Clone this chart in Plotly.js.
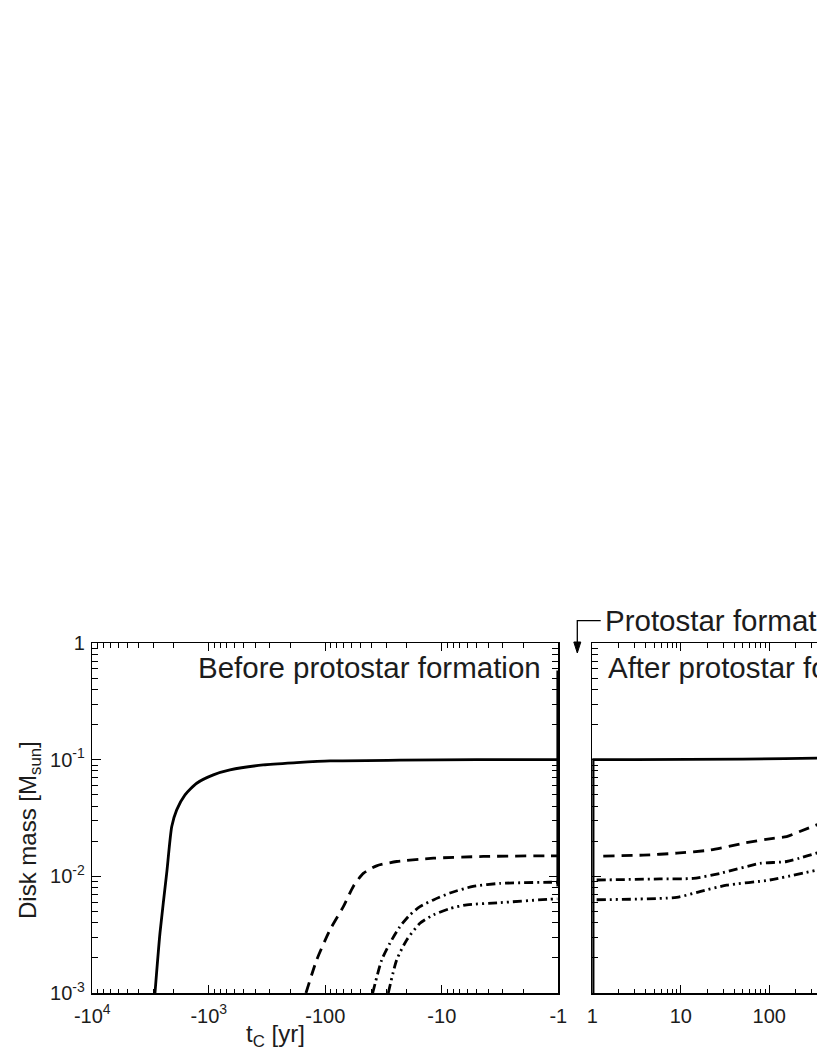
<!DOCTYPE html>
<html>
<head>
<meta charset="utf-8">
<script src="https://cdn.plot.ly/plotly-3.0.1.min.js"></script>
<style>
    html, body { margin: 0; padding: 0; overflow: hidden; background: #fff; }
    #chart { width: 1100px; height: 1058px; }
</style>
</head>
<body>
<div id="chart"></div>
<script>
    // --- data (t_c in yr, disk mass in M_sun) ---
    // before protostar formation (t_c < 0)
    const tSolidBefore = [-2897, -2624, -2297, -2080, -1886, -1600, -1270, -914, -658, -341, -176, -91, -23, -5, -1.2, -1.01];
    const mSolidBefore = [0.001, 0.00327, 0.0107, 0.0267, 0.0371, 0.0499, 0.0628, 0.074, 0.0816, 0.0901, 0.0942, 0.0975, 0.099, 0.1, 0.1, 0.1];
    const tSpikeBefore = [-1.01, -1.01];
    const mSpikeBefore = [0.58, 0.0082];
    const tDashBefore = [-146.5, -118.6, -91.2, -70, -57.5, -47.2, -36.3, -24.4, -11.8, -4.4, -1.18, -1.02];
    const mDashBefore = [0.001, 0.00192, 0.00347, 0.0055, 0.0082, 0.0106, 0.0123, 0.0134, 0.0143, 0.0148, 0.015, 0.015];
    const tDotBefore = [-39.2, -32.8, -27.9, -22.9, -18.8, -15.4, -11.8, -8.5, -5.4, -3.16, -1.18, -1.02];
    const mDotBefore = [0.001, 0.00192, 0.00267, 0.0037, 0.00467, 0.0055, 0.00628, 0.0072, 0.0082, 0.0087, 0.0089, 0.0089];
    const tDot2Before = [-28.8, -24.4, -20, -15.4, -11.8, -8.5, -6.1, -3.16, -1.18, -1.02];
    const mDot2Before = [0.001, 0.00192, 0.00285, 0.00396, 0.00467, 0.0053, 0.0057, 0.00595, 0.00637, 0.0064];

    // after protostar formation (t_c > 0)
    const tSolidAfter = [1.02, 1.02, 3, 10, 50, 150, 360];
    const mSolidAfter = [0.001, 0.1, 0.1, 0.1, 0.101, 0.102, 0.103];
    const tDashAfter = [1.33, 3.77, 9, 21.4, 50.8, 110.7, 157, 221, 360];
    const mDashAfter = [0.0149, 0.0152, 0.0158, 0.0168, 0.0192, 0.0212, 0.0219, 0.0242, 0.028];
    const tDotAfter = [1.12, 5.8, 13.8, 27.7, 78.5, 157, 360];
    const mDotAfter = [0.0093, 0.0095, 0.0096, 0.0106, 0.0129, 0.0134, 0.016];
    const tDot2After = [1.12, 9, 16.4, 33, 101, 360];
    const mDot2After = [0.0063, 0.0066, 0.0074, 0.0084, 0.0093, 0.0114];

    // tick labels (only the ones that are visible in the cropped figure)
    const xTickValsBefore = [10000, 1000, 100, 10, 1];
    const xTickTextBefore = ["-10<sup>4</sup>", "-10<sup>3</sup>", "-100", "-10", "-1"];
    const xTickValsAfter = [1, 10, 100];
    const xTickTextAfter = ["1", "10", "100"];
    const yTickVals = [1, 0.1, 0.01, 0.001];
    const yTickText = ["1", "10<sup>-1</sup>", "10<sup>-2</sup>", "10<sup>-3</sup>"];

    // --- page geometry ---
    const W = 1100, H = 1058;
    const px = x => x / W;
    const py = y => 1 - y / H;

    function minorVals(d0, d1) {
        const out = [];
        for (let d = d0; d < d1; d++) {
            for (let k = 2; k <= 9; k++) out.push(k * Math.pow(10, d));
        }
        return out;
    }

    const FONT = "Liberation Sans, Arial, Helvetica, sans-serif";
    const INK = "#1c1c1c";
    const W_LINE = 2.8;
    const DASH = "11px,7px";
    const DASHDOT = "9px,4px,2px,4px";
    const DASHDOT2 = "9px,4px,2px,4px,2px,4px";

    // time before formation is plotted by its magnitude on a reversed log axis
    const neg = arr => arr.map(v => -v);

    function line(x, y, dash, xa, ya, shape) {
        return {
            x: x, y: y, xaxis: xa, yaxis: ya,
            type: "scatter", mode: "lines",
            line: { color: "#000", width: W_LINE, dash: dash, shape: shape || "spline", smoothing: 0.6 },
            hoverinfo: "skip", showlegend: false
        };
    }

    const traces = [
        line(neg(tSolidBefore), mSolidBefore, "solid", "x", "y"),
        line(neg(tSpikeBefore), mSpikeBefore, "solid", "x", "y", "linear"),
        line(neg(tDashBefore), mDashBefore, DASH, "x", "y"),
        line(neg(tDotBefore), mDotBefore, DASHDOT, "x", "y"),
        line(neg(tDot2Before), mDot2Before, DASHDOT2, "x", "y"),
        line(tSolidAfter, mSolidAfter, "solid", "x2", "y2", "linear"),
        line(tDashAfter, mDashAfter, DASH, "x2", "y2"),
        line(tDotAfter, mDotAfter, DASHDOT, "x2", "y2"),
        line(tDot2After, mDot2After, DASHDOT2, "x2", "y2")
    ];

    const axisBase = {
        type: "log", showgrid: false, zeroline: false,
        showline: true, linecolor: "#000", linewidth: 1.5,
        mirror: "ticks", ticks: "inside", tickcolor: "#000", tickwidth: 1.2,
        tickfont: { family: FONT, size: 20, color: INK },
        automargin: false, fixedrange: true
    };

    const xAxisBase = Object.assign({}, axisBase, { ticklen: 8, ticklabelstandoff: 4 });
    const yAxisBase = Object.assign({}, axisBase, {
        ticklen: 9, range: [-3, 0], tickmode: "array",
        tickvals: yTickVals, ticktext: yTickText, ticklabelstandoff: 2,
        minor: { tickmode: "array", tickvals: minorVals(-3, 0), ticks: "inside", ticklen: 6, tickcolor: "#000", tickwidth: 1 }
    });

    const layout = {
        width: W, height: H,
        margin: { l: 0, r: 0, t: 0, b: 0 },
        paper_bgcolor: "#fff", plot_bgcolor: "#fff",
        font: { family: FONT, color: INK },
        xaxis: Object.assign({}, xAxisBase, {
            domain: [px(92.3), px(558.3)], anchor: "y",
            range: [4, 0], tickmode: "array",
            tickvals: xTickValsBefore, ticktext: xTickTextBefore,
            minor: { tickmode: "array", tickvals: minorVals(0, 4), ticks: "inside", ticklen: 4.5, tickcolor: "#000", tickwidth: 1 }
        }),
        yaxis: Object.assign({}, yAxisBase, { domain: [py(993), py(643)], anchor: "x" }),
        xaxis2: Object.assign({}, xAxisBase, {
            domain: [px(592.3), px(592.3 + 5 * 88.5)], anchor: "y2",
            range: [0, 5], tickmode: "array",
            tickvals: xTickValsAfter, ticktext: xTickTextAfter,
            minor: { tickmode: "array", tickvals: minorVals(0, 5), ticks: "inside", ticklen: 4.5, tickcolor: "#000", tickwidth: 1 }
        }),
        yaxis2: Object.assign({}, yAxisBase, { domain: [py(993), py(643)], anchor: "x2", showticklabels: false }),
        annotations: [
            { xref: "paper", yref: "paper", x: px(543), y: py(667), xanchor: "right", yanchor: "middle",
              text: "Before protostar formation", showarrow: false, font: { family: FONT, size: 29.5, color: INK } },
            { xref: "paper", yref: "paper", x: px(606), y: py(667), xanchor: "left", yanchor: "middle",
              text: "After protostar formation", showarrow: false, font: { family: FONT, size: 29.5, color: INK } },
            { xref: "paper", yref: "paper", x: px(603), y: py(620), xanchor: "left", yanchor: "middle",
              text: "Protostar formation", showarrow: false, font: { family: FONT, size: 29.5, color: INK } },
            { xref: "paper", yref: "paper", x: px(29), y: py(830), xanchor: "center", yanchor: "middle",
              text: "Disk mass [M<sub>sun</sub>]", textangle: -90, showarrow: false, font: { family: FONT, size: 24, color: INK } },
            { xref: "paper", yref: "paper", x: px(275), y: py(1035), xanchor: "center", yanchor: "middle",
              text: "t<sub>C</sub> [yr]", showarrow: false, font: { family: FONT, size: 24, color: INK } }
        ],
        shapes: [
            // bent connector from the "Protostar formation" label down to the panel gap
            { type: "path", xref: "paper", yref: "paper",
              path: `M ${px(600.7)} ${py(620.7)} L ${px(577.3)} ${py(620.7)} L ${px(577.3)} ${py(645)}`,
              line: { color: "#000", width: 1.3 } },
            { type: "path", xref: "paper", yref: "paper",
              path: `M ${px(573.8)} ${py(642)} L ${px(580.8)} ${py(642)} L ${px(577.3)} ${py(653)} Z`,
              fillcolor: "#000", line: { color: "#000", width: 1 } }
        ]
    };

    Plotly.newPlot("chart", traces, layout, { displayModeBar: false, staticPlot: true });
</script>
</body>
</html>
